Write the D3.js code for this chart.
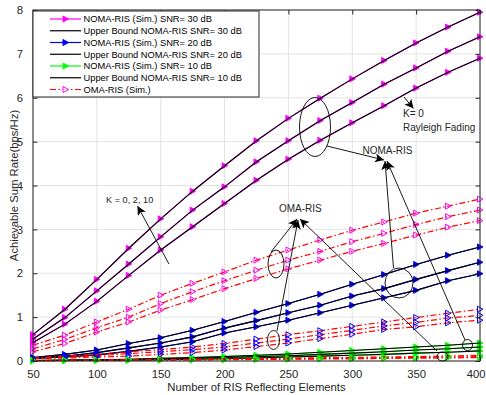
<!DOCTYPE html>
<html>
<head>
<meta charset="utf-8">
<script src="https://cdn.jsdelivr.net/npm/d3@7"></script>
<style>
  html, body { margin: 0; padding: 0; background: #fff; }
  svg { display: block; font-family: "Liberation Sans", Arial, Helvetica, sans-serif; }
</style>
</head>
<body>
<svg id="chart" width="486" height="395"></svg>
<script>
// Number of RIS reflecting elements (x axis)
const elements = [50, 75, 100, 125, 150, 175, 200, 225, 250, 275, 300, 325, 350, 375, 400];

// NOMA-RIS achievable sum rate, SNR = 30 dB (Rician factor K = 0, 2, 10)
const noma30K0  = [0.42, 0.84, 1.36, 1.95, 2.53, 3.06, 3.59, 4.12, 4.60, 5.03, 5.43, 5.82, 6.22, 6.58, 6.90];
const noma30K2  = [0.50, 0.99, 1.60, 2.21, 2.83, 3.44, 3.97, 4.54, 5.02, 5.48, 5.89, 6.31, 6.68, 7.06, 7.39];
const noma30K10 = [0.60, 1.18, 1.86, 2.57, 3.24, 3.87, 4.45, 5.02, 5.53, 5.99, 6.43, 6.85, 7.25, 7.61, 7.95];

// NOMA-RIS, SNR = 20 dB
const noma20K0  = [0.06, 0.09, 0.14, 0.22, 0.32, 0.44, 0.64, 0.78, 0.93, 1.10, 1.27, 1.44, 1.61, 1.83, 1.99];
const noma20K2  = [0.07, 0.11, 0.19, 0.30, 0.41, 0.55, 0.75, 0.92, 1.10, 1.27, 1.48, 1.65, 1.86, 2.06, 2.25];
const noma20K10 = [0.08, 0.15, 0.25, 0.40, 0.53, 0.70, 0.90, 1.11, 1.31, 1.52, 1.75, 1.97, 2.20, 2.41, 2.60];

// NOMA-RIS, SNR = 10 dB
const noma10K0  = [0.005, 0.01, 0.015, 0.02, 0.03, 0.04, 0.05, 0.07, 0.09, 0.11, 0.13, 0.15, 0.18, 0.20, 0.23];
const noma10K2  = [0.01, 0.015, 0.02, 0.03, 0.05, 0.06, 0.08, 0.10, 0.12, 0.15, 0.18, 0.21, 0.25, 0.28, 0.32];
const noma10K10 = [0.01, 0.02, 0.03, 0.04, 0.06, 0.08, 0.10, 0.13, 0.16, 0.20, 0.24, 0.28, 0.32, 0.36, 0.41];

// OMA-RIS (simulation), SNR = 30 dB
const oma30K0  = [0.21, 0.40, 0.66, 0.89, 1.16, 1.40, 1.65, 1.88, 2.10, 2.30, 2.50, 2.68, 2.87, 3.05, 3.20];
const oma30K2  = [0.28, 0.49, 0.76, 1.00, 1.31, 1.58, 1.83, 2.07, 2.30, 2.50, 2.72, 2.91, 3.11, 3.29, 3.44];
const oma30K10 = [0.36, 0.59, 0.89, 1.18, 1.50, 1.77, 2.03, 2.30, 2.53, 2.76, 2.98, 3.17, 3.37, 3.53, 3.69];

// OMA-RIS, SNR = 20 dB
const oma20K0  = [0.05, 0.07, 0.09, 0.11, 0.15, 0.19, 0.25, 0.33, 0.41, 0.51, 0.61, 0.72, 0.78, 0.87, 0.93];
const oma20K2  = [0.06, 0.09, 0.12, 0.17, 0.21, 0.26, 0.32, 0.41, 0.50, 0.60, 0.70, 0.80, 0.88, 0.98, 1.04];
const oma20K10 = [0.07, 0.11, 0.15, 0.21, 0.26, 0.32, 0.40, 0.50, 0.60, 0.69, 0.79, 0.89, 0.99, 1.09, 1.18];

// OMA-RIS, SNR = 10 dB
const oma10K0  = [0.005, 0.01, 0.012, 0.015, 0.02, 0.025, 0.03, 0.035, 0.04, 0.045, 0.05, 0.06, 0.065, 0.07, 0.08];
const oma10K2  = [0.008, 0.012, 0.016, 0.02, 0.025, 0.03, 0.036, 0.042, 0.05, 0.057, 0.064, 0.072, 0.08, 0.09, 0.10];
const oma10K10 = [0.01, 0.015, 0.02, 0.026, 0.032, 0.04, 0.047, 0.055, 0.064, 0.073, 0.082, 0.092, 0.10, 0.115, 0.13];

// Axis ticks
const xTicks = [50, 100, 150, 200, 250, 300, 350, 400];
const yTicks = [0, 1, 2, 3, 4, 5, 6, 7, 8];

// Legend entries
const legendLabels = [
  "NOMA-RIS (Sim.) SNR= 30 dB",
  "Upper Bound NOMA-RIS SNR= 30 dB",
  "NOMA-RIS (Sim.) SNR= 20 dB",
  "Upper Bound NOMA-RIS SNR= 20 dB",
  "NOMA-RIS (Sim.) SNR= 10 dB",
  "Upper Bound NOMA-RIS SNR= 10 dB",
  "OMA-RIS (Sim.)"
];

const svg = d3.select("#chart");
const plot = { left: 33, right: 480, top: 10, bottom: 361 };
const x = d3.scaleLinear().domain([50, 400]).range([plot.left, plot.right]);
const y = d3.scaleLinear().domain([0, 8]).range([plot.bottom, plot.top]);

const axisColor = "#262626";
const gridColor = "#e3e3e3";
const dashDot = "6,2.5,1.5,2.5";

// Grid
const grid = svg.append("g");
grid.selectAll("line.gx").data(xTicks).join("line")
  .attr("x1", d => x(d)).attr("x2", d => x(d))
  .attr("y1", plot.top).attr("y2", plot.bottom)
  .attr("stroke", gridColor).attr("stroke-width", 1);
grid.selectAll("line.gy").data(yTicks).join("line")
  .attr("x1", plot.left).attr("x2", plot.right)
  .attr("y1", d => y(d)).attr("y2", d => y(d))
  .attr("stroke", gridColor).attr("stroke-width", 1);

const line = d3.line().x((d, i) => x(elements[i])).y(d => y(d));

// Right-pointing triangle marker
function triPath(cx, cy) {
  return `M${cx - 2.5},${cy - 3}L${cx + 3},${cy}L${cx - 2.5},${cy + 3}Z`;
}

const series = svg.append("g");

function drawSim(values, color, filled) {
  series.append("path").datum(values).attr("d", line)
    .attr("fill", "none").attr("stroke", color).attr("stroke-width", 1.1);
  series.append("g").selectAll("path").data(values).join("path")
    .attr("d", (d, i) => triPath(x(elements[i]), y(d)))
    .attr("fill", filled ? color : "none")
    .attr("stroke", color).attr("stroke-width", 1);
}
function drawBound(values) {
  series.append("path").datum(values).attr("d", line)
    .attr("fill", "none").attr("stroke", "#000").attr("stroke-width", 1.1);
}
function drawOma(values, markerColor) {
  series.append("path").datum(values).attr("d", line)
    .attr("fill", "none").attr("stroke", "#ff0000").attr("stroke-width", 1.2)
    .attr("stroke-dasharray", dashDot);
  series.append("g").selectAll("path").data(values).join("path")
    .attr("d", (d, i) => triPath(x(elements[i]), y(d)))
    .attr("fill", "none").attr("stroke", markerColor).attr("stroke-width", 1);
}

[noma30K0, noma30K2, noma30K10].forEach(v => drawSim(v, "#ff00ff", true));
[noma30K0, noma30K2, noma30K10].forEach(drawBound);
[noma20K0, noma20K2, noma20K10].forEach(v => drawSim(v, "#0000ff", true));
[noma20K0, noma20K2, noma20K10].forEach(drawBound);
[noma10K0, noma10K2, noma10K10].forEach(v => drawSim(v, "#00ff00", true));
[noma10K0, noma10K2, noma10K10].forEach(drawBound);
[oma30K0, oma30K2, oma30K10].forEach(v => drawOma(v, "#ff00ff"));
[oma20K0, oma20K2, oma20K10].forEach(v => drawOma(v, "#0000ff"));
[oma10K0, oma10K2, oma10K10].forEach(v => drawOma(v, "#00ff00"));

// Axes: box with inward ticks on all sides
const axes = svg.append("g").attr("font-size", "11.3px").attr("fill", axisColor);
axes.append("rect")
  .attr("x", plot.left).attr("y", plot.top)
  .attr("width", plot.right - plot.left).attr("height", plot.bottom - plot.top)
  .attr("fill", "none").attr("stroke", axisColor).attr("stroke-width", 1);

const xAxis = d3.axisBottom(x).tickValues(xTicks).tickSizeInner(-4.5).tickSizeOuter(0).tickPadding(9);
const gx = axes.append("g").attr("transform", `translate(0,${plot.bottom})`).call(xAxis);
const xAxisTop = d3.axisTop(x).tickValues(xTicks).tickSizeInner(-4.5).tickSizeOuter(0).tickFormat("");
const gxt = axes.append("g").attr("transform", `translate(0,${plot.top})`).call(xAxisTop);
const yAxis = d3.axisLeft(y).tickValues(yTicks).tickSizeInner(-4.5).tickSizeOuter(0).tickPadding(10);
const gy = axes.append("g").attr("transform", `translate(${plot.left},0)`).call(yAxis);
const yAxisRight = d3.axisRight(y).tickValues(yTicks).tickSizeInner(-4.5).tickSizeOuter(0).tickFormat("");
const gyr = axes.append("g").attr("transform", `translate(${plot.right},0)`).call(yAxisRight);
[gx, gxt, gy, gyr].forEach(g => {
  g.select(".domain").remove();
  g.selectAll(".tick line").attr("stroke", axisColor);
  g.selectAll(".tick text").attr("fill", axisColor)
    .attr("font-size", "11.3px")
    .attr("font-family", "'Liberation Sans', Arial, Helvetica, sans-serif");
});
// keep the last x tick label inside the page
gx.selectAll(".tick text").filter(d => d === 400)
  .attr("text-anchor", "end").attr("x", 485 - plot.right);

// Axis titles
svg.append("text")
  .attr("x", (plot.left + plot.right) / 2).attr("y", 390.5)
  .attr("text-anchor", "middle").attr("font-size", "11.3px").attr("fill", axisColor)
  .text("Number of RIS Reflecting Elements");
svg.append("text")
  .attr("transform", `translate(18,${(plot.top + plot.bottom) / 2}) rotate(-90)`)
  .attr("text-anchor", "middle").attr("font-size", "11.3px").attr("fill", axisColor)
  .text("Achievable Sum Rate(bps/Hz)");

// Legend
const legend = svg.append("g");
legend.append("rect")
  .attr("x", 33).attr("y", 11).attr("width", 226).attr("height", 86)
  .attr("fill", "#fff").attr("stroke", axisColor).attr("stroke-width", 1);
const legendStyle = [
  { stroke: "#ff00ff", marker: "#ff00ff", filled: true, dash: null },
  { stroke: "#000", marker: null },
  { stroke: "#0000ff", marker: "#0000ff", filled: true, dash: null },
  { stroke: "#000", marker: null },
  { stroke: "#00ff00", marker: "#00ff00", filled: true, dash: null },
  { stroke: "#000", marker: null },
  { stroke: "#ff0000", marker: "#ff00ff", filled: false, dash: dashDot }
];
legendLabels.forEach((label, i) => {
  const cy = 19 + i * 11.75;
  const st = legendStyle[i];
  legend.append("line")
    .attr("x1", 50).attr("x2", 81).attr("y1", cy).attr("y2", cy)
    .attr("stroke", st.stroke).attr("stroke-width", 1.2)
    .attr("stroke-dasharray", st.dash);
  if (st.marker) {
    legend.append("path").attr("d", triPath(65.5, cy))
      .attr("fill", st.filled ? st.marker : "#fff")
      .attr("stroke", st.marker).attr("stroke-width", 1);
  }
  legend.append("text")
    .attr("x", 83.5).attr("y", cy + 3.4)
    .attr("font-size", "9.3px").attr("fill", "#000")
    .text(label);
});

// Annotations
const notes = svg.append("g");
const defs = svg.append("defs");
defs.append("marker")
  .attr("id", "head").attr("viewBox", "0 0 10 10")
  .attr("refX", 10).attr("refY", 5)
  .attr("markerWidth", 9).attr("markerHeight", 9)
  .attr("markerUnits", "userSpaceOnUse")
  .attr("orient", "auto")
  .append("path").attr("d", "M0,0L10,5L0,10L2.5,5Z").attr("fill", "#000");

function ellipse(cx, cy, rx, ry) {
  notes.append("ellipse").attr("cx", cx).attr("cy", cy).attr("rx", rx).attr("ry", ry)
    .attr("fill", "none").attr("stroke", "#000").attr("stroke-width", 0.9);
}
function arrow(x1, y1, x2, y2) {
  notes.append("line").attr("x1", x1).attr("y1", y1).attr("x2", x2).attr("y2", y2)
    .attr("stroke", "#000").attr("stroke-width", 0.9).attr("marker-end", "url(#head)");
}
function label(tx, ty, txt, size) {
  notes.append("text").attr("x", tx).attr("y", ty)
    .attr("font-size", size || "10px").attr("fill", "#262626").text(txt);
}

// NOMA-RIS group
ellipse(315, 127, 15.5, 29.5);
ellipse(399, 283, 14, 15);
ellipse(467.5, 345, 5, 5.5);
arrow(327, 146, 384, 160);
arrow(393.5, 268, 385, 161);
arrow(465, 340, 387, 161);
label(362.5, 154, "NOMA-RIS");

// OMA-RIS group
ellipse(276, 264, 8, 14);
ellipse(273.5, 340, 6, 9.5);
ellipse(442.5, 356.5, 5.5, 4.5);
arrow(271, 252, 297, 219);
arrow(277, 331, 298, 220);
arrow(437, 351, 300, 219);
label(279, 211.5, "OMA-RIS");

// Rician factor notes
arrow(169, 264, 137.5, 206);
label(106, 202.5, "K = 0, 2, 10", "9.2px");
arrow(404, 97, 413.5, 108.5);
label(403, 117.3, "K= 0");
label(403, 130.7, "Rayleigh Fading");
</script>
</body>
</html>
